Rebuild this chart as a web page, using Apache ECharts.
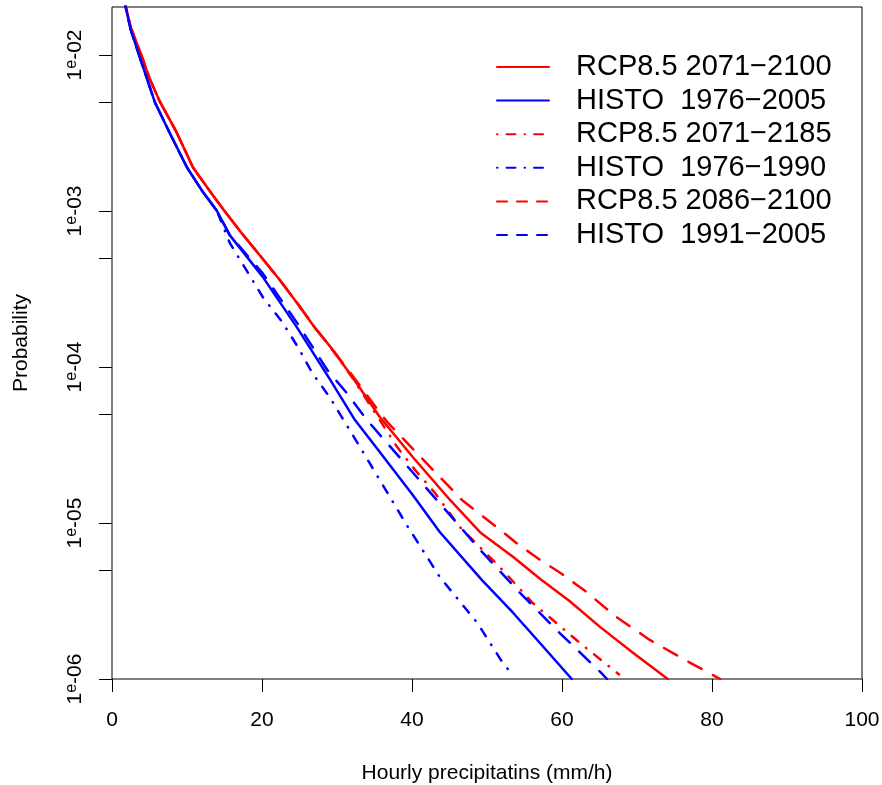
<!DOCTYPE html>
<html>
<head>
<meta charset="utf-8">
<script src="https://cdn.jsdelivr.net/npm/echarts@6/dist/echarts.min.js"></script>
<style>
html,body{margin:0;padding:0;background:#fff;}
#chart{width:882px;height:785px;}
</style>
</head>
<body>
<div id="chart"></div>
<script>
// ---------- data ----------
const xTicks = [0, 20, 40, 60, 80, 100];
const yLabelValues = [1e-6, 1e-5, 1e-4, 1e-3, 1e-2];
const yTickValues = [1e-6, 5e-6, 1e-5, 5e-5, 1e-4, 5e-4, 1e-3, 5e-3, 1e-2];
const yMin = 1e-6;
const yMax = 0.0203;

const seriesNames = [
  'RCP8.5 2071\u22122100',
  'HISTO  1976\u22122005',
  'RCP8.5 2071\u22122185',
  'HISTO  1976\u22121990',
  'RCP8.5 2086\u22122100',
  'HISTO  1991\u22122005'
];

// RCP8.5 2071-2100 (red solid)
const rcp_71_00_x = [1.4, 2.5, 3.9, 5.0, 6.4, 8.6, 10.8, 13.0, 15.0, 17.3, 20.0, 22.4, 25.0, 27.0, 29.1, 32.0, 35.7, 40.1, 45.1, 49.1, 53.5, 57.1, 61.0, 65.1, 69.5, 74.1];
const rcp_71_00_p = [2.5e-2, 1.5e-2, 1.0e-2, 7.1e-3, 5.0e-3, 3.2e-3, 1.9e-3, 1.35e-3, 1.0e-3, 7.2e-4, 5.0e-4, 3.6e-4, 2.45e-4, 1.8e-4, 1.35e-4, 8.7e-5, 4.78e-5, 2.65e-5, 1.40e-5, 8.7e-6, 6.05e-6, 4.37e-6, 3.16e-6, 2.15e-6, 1.47e-6, 1.0e-6];

// HISTO 1976-2005 (blue solid)
const histo_76_05_x = [1.4, 2.5, 3.6, 5.7, 7.7, 10.0, 12.0, 14.0, 15.7, 20.1, 24.7, 29.1, 32.4, 35.7, 40.1, 43.7, 49.3, 53.5, 57.5, 61.3];
const histo_76_05_p = [2.5e-2, 1.45e-2, 1.0e-2, 5.0e-3, 3.16e-3, 1.9e-3, 1.35e-3, 1.0e-3, 7.0e-4, 3.78e-4, 1.78e-4, 8.26e-5, 4.57e-5, 2.85e-5, 1.51e-5, 8.75e-6, 4.32e-6, 2.65e-6, 1.61e-6, 1.0e-6];

// RCP8.5 2071-2185 (red dot-dash)
const rcp_71_85_x = [1.4, 2.5, 3.9, 5.0, 6.4, 8.6, 10.8, 13.0, 15.0, 17.3, 20.0, 22.4, 25.0, 27.0, 29.1, 32.0, 35.7, 38.0, 40.4, 43.1, 46.4, 51.7, 56.1, 62.4, 67.6];
const rcp_71_85_p = [2.5e-2, 1.5e-2, 1.0e-2, 7.1e-3, 5.0e-3, 3.2e-3, 1.9e-3, 1.35e-3, 1.0e-3, 7.2e-4, 5.0e-4, 3.6e-4, 2.45e-4, 1.8e-4, 1.35e-4, 8.6e-5, 4.57e-5, 3.08e-5, 2.19e-5, 1.55e-5, 9.4e-6, 5.22e-6, 3.07e-6, 1.70e-6, 1.07e-6];

// HISTO 1976-1990 (blue dot-dash)
const histo_76_90_x = [1.4, 2.5, 3.6, 5.7, 7.7, 10.0, 12.0, 14.0, 15.7, 20.1, 22.7, 24.8, 26.7, 29.1, 33.3, 39.3, 43.7, 48.7, 52.1, 53.3];
const histo_76_90_p = [2.5e-2, 1.45e-2, 1.0e-2, 5.0e-3, 3.16e-3, 1.9e-3, 1.35e-3, 1.0e-3, 6.24e-4, 2.81e-4, 1.94e-4, 1.34e-4, 9.16e-5, 6.32e-5, 2.94e-5, 9.7e-6, 4.51e-6, 2.29e-6, 1.27e-6, 1.08e-6];

// RCP8.5 2086-2100 (red dashed)
const rcp_86_00_x = [1.4, 2.5, 3.9, 5.0, 6.4, 8.6, 10.8, 13.0, 15.0, 17.3, 20.0, 22.4, 25.0, 27.0, 29.1, 32.0, 35.7, 36.7, 42.4, 46.7, 51.3, 54.1, 57.1, 60.0, 63.1, 67.3, 71.7, 77.1, 81.1];
const rcp_86_00_p = [2.5e-2, 1.5e-2, 1.0e-2, 7.1e-3, 5.0e-3, 3.2e-3, 1.9e-3, 1.35e-3, 1.0e-3, 7.2e-4, 5.0e-4, 3.6e-4, 2.45e-4, 1.8e-4, 1.35e-4, 8.9e-5, 5.1e-5, 4.44e-5, 2.29e-5, 1.40e-5, 9.4e-6, 7.33e-6, 5.79e-6, 4.71e-6, 3.66e-6, 2.49e-6, 1.78e-6, 1.27e-6, 1.0e-6];

// HISTO 1991-2005 (blue dashed)
const histo_91_05_x = [1.4, 2.5, 3.6, 5.7, 7.7, 10.0, 12.0, 14.0, 15.7, 20.1, 24.7, 28.7, 31.3, 34.0, 40.4, 45.3, 49.1, 54.4, 59.7, 65.1, 66.0];
const histo_91_05_p = [2.5e-2, 1.45e-2, 1.0e-2, 5.0e-3, 3.16e-3, 1.9e-3, 1.35e-3, 1.0e-3, 7.0e-4, 3.98e-4, 1.91e-4, 9.57e-5, 6.81e-5, 4.57e-5, 2.03e-5, 1.09e-5, 6.71e-6, 3.56e-6, 1.97e-6, 1.11e-6, 1.0e-6];

// ---------- styling ----------
const FONT = '"Liberation Sans", Arial, Helvetica, sans-serif';
const RED = '#ff0000';
const BLUE = '#0000ff';
const DASH = [15, 13];
const DOTDASH = [0.5, 10, 8.5, 10];
const LEG_DASH = [10, 10];
const LEG_DOTDASH = [0.5, 9, 9, 9];

function pairs(xs, ps) { return xs.map((x, i) => [x, ps[i]]); }

const seriesDefs = [
  { name: seriesNames[0], x: rcp_71_00_x, p: rcp_71_00_p, color: RED, type: 'solid', leg: 'solid' },
  { name: seriesNames[1], x: histo_76_05_x, p: histo_76_05_p, color: BLUE, type: 'solid', leg: 'solid' },
  { name: seriesNames[2], x: rcp_71_85_x, p: rcp_71_85_p, color: RED, type: DOTDASH, leg: LEG_DOTDASH },
  { name: seriesNames[3], x: histo_76_90_x, p: histo_76_90_p, color: BLUE, type: DOTDASH, leg: LEG_DOTDASH },
  { name: seriesNames[4], x: rcp_86_00_x, p: rcp_86_00_p, color: RED, type: DASH, leg: LEG_DASH },
  { name: seriesNames[5], x: histo_91_05_x, p: histo_91_05_p, color: BLUE, type: DASH, leg: LEG_DASH }
];

const chart = echarts.init(document.getElementById('chart'), null, { renderer: 'canvas' });

const option = {
  animation: false,
  backgroundColor: '#ffffff',
  textStyle: { fontFamily: FONT },
  grid: {
    left: 112, top: 7, width: 750, height: 672,
    outerBoundsMode: 'none', containLabel: false,
    show: true, borderColor: '#000', borderWidth: 1, backgroundColor: 'transparent'
  },
  legend: {
    orient: 'vertical',
    left: 496, top: 52, padding: 0,
    itemWidth: 52, itemHeight: 14, itemGap: 3.6,
    selectedMode: false,
    itemStyle: { color: 'rgba(0,0,0,0)', borderWidth: 0, opacity: 0 },
    textStyle: { fontSize: 29, fontFamily: FONT, color: '#000', lineHeight: 30, padding: [0, 0, 0, 22] },
    data: seriesDefs.map(s => ({
      name: s.name,
      itemStyle: { color: 'rgba(0,0,0,0)', borderWidth: 0, opacity: 0 },
      lineStyle: { width: 2, type: s.leg, cap: 'round', color: s.color, opacity: 1 }
    }))
  },
  xAxis: {
    type: 'value', min: 0, max: 100, interval: 20,
    axisLine: { show: false },
    axisTick: { show: true, length: 13, lineStyle: { color: '#000', width: 1 } },
    axisLabel: { fontSize: 21, margin: 31, color: '#000', fontFamily: FONT, showMinLabel: true, showMaxLabel: true,
      customValues: xTicks },
    splitLine: { show: false },
    name: 'Hourly precipitatins (mm/h)', nameLocation: 'middle', nameGap: 84,
    nameTextStyle: { fontSize: 21, color: '#000', fontFamily: FONT }
  },
  yAxis: [
    {
      type: 'log', logBase: 10, min: yMin, max: yMax,
      show: false
    },
    {
      type: 'value', min: Math.log10(yMin), max: Math.log10(yMax),
      position: 'left',
      axisLine: { show: false },
      splitLine: { show: false },
      axisTick: { show: true, length: 13, lineStyle: { color: '#000', width: 1 },
        customValues: yTickValues.map(v => Math.log10(v)) },
      axisLabel: {
        show: true, rotate: 90, margin: 25, fontSize: 21, color: '#000', fontFamily: FONT,
        customValues: yLabelValues.map(v => Math.log10(v)),
        formatter: function (v) {
          const e = Math.round(v);
          return '1{e|e}-' + String(-e).padStart(2, '0');
        },
        rich: { e: { fontSize: 16, color: '#000', fontFamily: FONT, padding: [0, 0, 7, 0] } }
      },
      name: 'Probability', nameLocation: 'middle', nameRotate: 90, nameGap: 80,
      nameTextStyle: { fontSize: 21, color: '#000', fontFamily: FONT }
    }
  ],
  series: seriesDefs.map(s => ({
    type: 'line', name: s.name, yAxisIndex: 0,
    data: pairs(s.x, s.p),
    symbol: 'none', showSymbol: false, clip: true,
    lineStyle: { color: s.color, width: 2.5, type: s.type, cap: 'round', join: 'round' },
    itemStyle: { color: s.color },
    emphasis: { disabled: true }
  }))
};

chart.setOption(option);
</script>
</body>
</html>
